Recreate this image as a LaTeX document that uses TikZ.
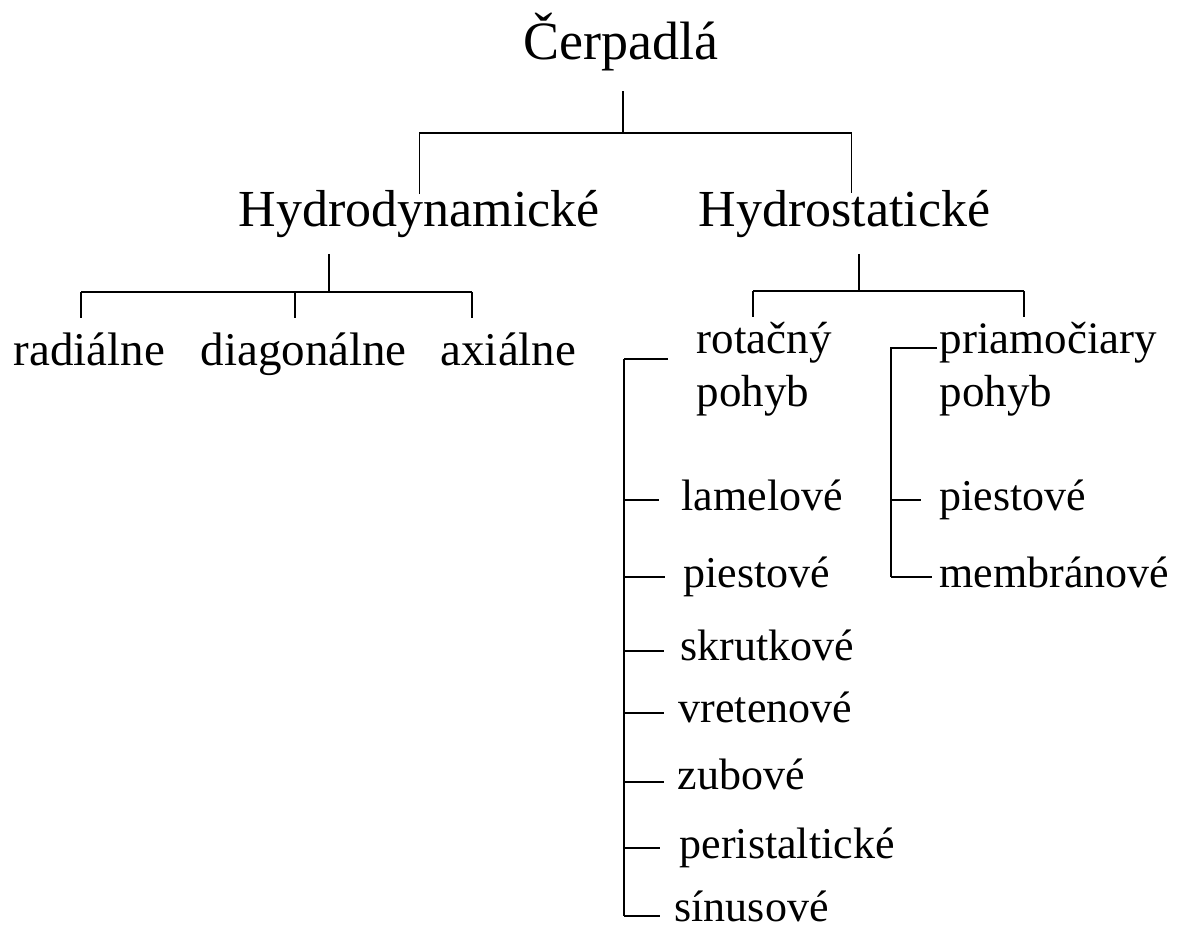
\documentclass[tikz,border=0pt]{standalone}
\usepackage{fontspec}
\setmainfont{Liberation Serif}

\tikzset{
  rootnode/.style={inner sep=0pt, anchor=base, font=\fontsize{54}{60}\selectfont},
  groupnode/.style={inner sep=0pt, anchor=base, font=\fontsize{52}{60}\selectfont},
  kindnode/.style={inner sep=0pt, anchor=base west, font=\fontsize{47}{56}\selectfont},
  motionnode/.style={inner sep=0pt, anchor=base west, align=left, font=\fontsize{45}{53}\selectfont},
  itemnode/.style={inner sep=0pt, anchor=base west, font=\fontsize{44}{50}\selectfont},
}

\begin{document}
\begin{tikzpicture}[x=1pt,y=-1pt,line width=1.2pt]
\useasboundingbox (0,0) rectangle (1179,928);

% levels
\node[rootnode] (cerp) at (621,60) {Čerpadlá};
\node[groupnode] (hdyn) at (419.5,227) {Hydrodynamické};
\node[groupnode] (hstat) at (844.5,227) {Hydrostatické};

\node[kindnode] (rad) at (13,366) {radiálne};
\node[kindnode] (diag) at (200,366) {diagonálne};
\node[kindnode] (ax) at (440,366) {axiálne};

\node[motionnode] (rot) at (696,406) {rotačný\\pohyb};
\node[motionnode] (pria) at (939,406) {priamočiary\\pohyb};

% junctions
\coordinate (j0) at (623,133);
\coordinate (j1) at (329,292);
\coordinate (j2) at (859,291);
\coordinate (d1) at (81,292);
\coordinate (d2) at (295,292);
\coordinate (d3) at (472,292);
\coordinate (e1) at (753,291);
\coordinate (e2) at (1024,291);

\draw[shorten <=19pt] (j0 |- cerp.south) -- (j0);
\draw[shorten <=-4pt,shorten >=-3pt] (hdyn.north) |- (j0) -| ([xshift=7pt]hstat.north);

\draw[shorten <=15pt] (j1 |- hdyn.south) -- (j1);
\draw (d1) -- (d3);
\foreach \c in {d1,d2,d3}
  \draw[shorten >=15pt] (\c) -- (\c |- rad.north);

\draw[shorten <=15pt] (j2 |- hstat.south) -- (j2);
\draw (e1) -- (e2);
\foreach \c in {e1,e2}
  \draw (\c) -- ++(0,26);

% rotacny pohyb
\coordinate (sL) at (624,359);
\coordinate (rot-t) at (668,359);
\draw (rot-t) -- (sL);
\foreach \nm/\txt/\x/\y/\tx/\ty in {
    lam/lamelové/681/510/659/500,
    pieA/piestové/683/587/665/577,
    skr/skrutkové/680/660/664/651,
    vre/vretenové/678/722/664/713,
    zub/zubové/677/789/664/782,
    per/peristaltické/679/858/660/848,
    sin/sínusové/674/921/660/916} {
  \node[itemnode] (\nm) at (\x,\y) {\txt};
  \coordinate (\nm-t) at (\tx,\ty);
  \draw (sL |- \nm-t) -- (\nm-t);
}
\draw (sL) -- (sL |- sin-t);

% priamociary pohyb
\coordinate (sR) at (891,348);
\coordinate (pria-t) at (937,348);
\foreach \nm/\txt/\x/\y/\tx/\ty in {
    pieB/piestové/939/510/921/500,
    mem/membránové/939/587/932/577} {
  \node[itemnode] (\nm) at (\x,\y) {\txt};
  \coordinate (\nm-t) at (\tx,\ty);
  \draw (sR |- \nm-t) -- (\nm-t);
}
\draw (pria-t) -- (sR) -- (sR |- mem-t);

\end{tikzpicture}
\end{document}
